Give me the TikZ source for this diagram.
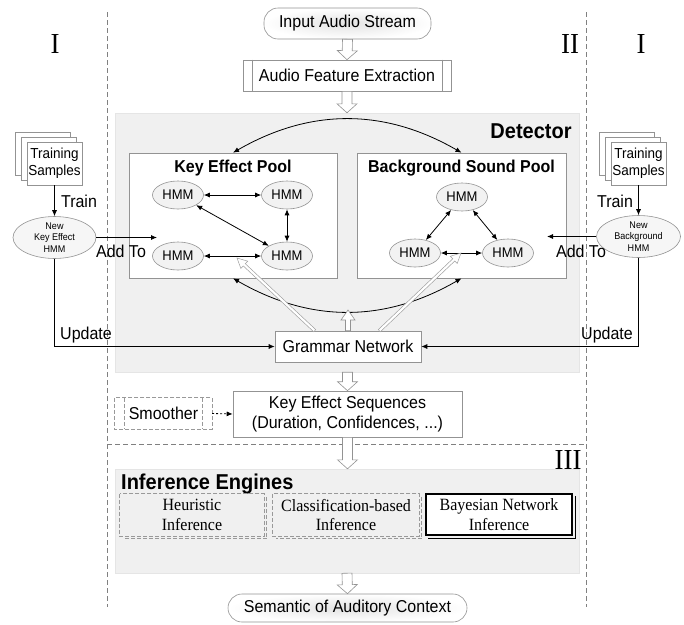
\documentclass[tikz,border=0pt]{standalone}
\usepackage{fontspec}
\setmainfont[FakeStretch=0.93]{Liberation Serif}
\newfontfamily\arial[FakeStretch=0.93]{Liberation Sans}
\usetikzlibrary{calc,arrows.meta,shapes.geometric}
\newcommand\harrow[6][hollowarr]{%
  \coordinate (hH) at ($(#3)!#6!(#2)$);
  \draw[#1] ($(#2)!#4!90:(#3)$) -- ($(hH)!#4!90:(#3)$) -- ($(hH)!#5!90:(#3)$) -- (#3)
    -- ($(hH)!#5!-90:(#3)$) -- ($(hH)!#4!-90:(#3)$) -- ($(#2)!#4!-90:(#3)$) -- cycle;}
\begin{document}
\begin{tikzpicture}[x=1pt,y=-1pt,
  sf/.style={font=\arial\fontsize{17.2}{20}\selectfont},
  box/.style={draw=gray!85, fill=white, line width=0.6pt, inner sep=0pt, align=center, sf},
  hmm/.style={ellipse, draw=gray!85, fill=gray!10, line width=0.6pt, minimum width=51pt, minimum height=28pt, inner sep=0pt, font=\arial\fontsize{14}{16}\selectfont},
  newhmm/.style={ellipse, draw=gray!85, fill=gray!7, line width=0.6pt, inner sep=0pt, align=center, font=\arial\fontsize{9.7}{11.5}\selectfont},
  conn/.style={line width=0.8pt, {Latex[length=6pt,width=5pt]}-{Latex[length=6pt,width=5pt]}},
  arr/.style={line width=0.8pt, -{Latex[length=6pt,width=5pt]}},
  hollowarr/.style={draw=gray!85, fill=white, line width=0.6pt},
  thinarr/.style={draw=gray!75, fill=white, line width=0.5pt},
  sep/.style={gray, dash pattern=on 5pt off 3pt, line width=0.7pt},
  lbl/.style={sf, inner sep=0pt},
  roman/.style={font=\fontsize{29}{31}\selectfont, inner sep=0pt},
  region/.style={fill=gray!12, draw=gray!20, line width=0.4pt, inner sep=0pt},
  serifbox/.style={inner sep=0pt, align=center, font=\fontsize{17.2}{19.5}\selectfont},
  dbox/.style={gray!80, dash pattern=on 4pt off 2pt, line width=0.8pt},
  pill/.style={box, rounded corners=14pt, inner color=gray!22, outer color=white}
]
\useasboundingbox (0,0) rectangle (684,624);

% separators
\draw[sep] (107,12) -- (107,607);
\draw[sep] (586,12) -- (586,607);
\draw[sep] (107,444) -- (586,444);
\node[roman] (r1) at (55,44) {I};
\node[roman] (r2) at (570,44) {II};
\node[roman] (r3) at (641,44) {I};
\node[roman] (r4) at (568,460) {III};

% grey regions
\node[region, minimum width=464pt, minimum height=259pt] (det) at (347,242.5) {};
\node[region, minimum width=464pt, minimum height=104pt] (inf) at (347,521) {};
\node[font=\arial\bfseries\fontsize{21.5}{23}\selectfont, inner sep=0pt] (dett) at (531,131) {Detector};
\node[font=\arial\bfseries\fontsize{21.5}{23}\selectfont, inner sep=0pt, anchor=west] (inft) at (121,484) {Inference Engines};

% top
\node[pill, minimum width=167pt, minimum height=31pt] (in) at (347.5,23.5) {Input Audio Stream};
\node[box, minimum width=208pt, minimum height=31pt] (afe) at (347,75.5) {Audio Feature Extraction};
\draw[gray!85, line width=0.6pt] ($(afe.north west)+(10,0)$) -- ($(afe.south west)+(10,0)$);
\draw[gray!85, line width=0.6pt] ($(afe.north east)+(-9,0)$) -- ($(afe.south east)+(-9,0)$);
\harrow{in.south}{afe.north}{5pt}{10pt}{9pt}
\harrow{afe.south}{det.north}{5pt}{10pt}{9pt}

% pools
\node[box, minimum width=208pt, minimum height=125pt] (kep) at (233,215.5) {};
\node[box, minimum width=209pt, minimum height=125pt] (bsp) at (461.5,215.5) {};
\node[font=\arial\bfseries\fontsize{17.2}{19}\selectfont, inner sep=0pt] (kept) at (233,168) {Key Effect Pool};
\node[font=\arial\bfseries\fontsize{17.2}{19}\selectfont, inner sep=0pt] (bspt) at (461.5,168) {Background Sound Pool};

\node[hmm] (k1) at (178,195) {HMM};
\node[hmm] (k2) at (287,195) {HMM};
\node[hmm] (k3) at (178,256) {HMM};
\node[hmm] (k4) at (287,256) {HMM};
\draw[conn] (k1) -- (k2);
\draw[conn] (k1) -- (k4);
\draw[conn] (k2) -- (k4);
\draw[conn] (k3) -- (k4);

\node[hmm] (b1) at (462,197) {HMM};
\node[hmm] (b2) at (415,253) {HMM};
\node[hmm] (b3) at (508,253) {HMM};
\draw[conn] (b1) -- (b2);
\draw[conn] (b1) -- (b3);
\draw[conn] (b2) -- (b3);

\draw[conn] (kep.north) to[bend left=30] (bsp.north);
\draw[conn] (kep.south) to[bend right=30] (bsp.south);

% grammar network
\node[box, minimum width=146pt, minimum height=31pt] (gn) at (348,346.5) {Grammar Network};
\coordinate (arcbot) at (348,310);
\harrow{gn.north}{arcbot}{2.5pt}{7pt}{10pt}
\coordinate (kt) at (237,258);
\coordinate (bt) at (461,253);
\harrow[thinarr]{$(gn.north west)+(40,0)$}{kt}{1.5pt}{5pt}{10pt}
\harrow[thinarr]{$(gn.north east)+(-42,0)$}{bt}{1.5pt}{5pt}{10pt}

% left training
\node[box, minimum width=55pt, minimum height=43pt] (tsl3) at (42.5,153.5) {};
\node[box, minimum width=55pt, minimum height=43pt] (tsl2) at (48.5,158.5) {};
\node[box, minimum width=55pt, minimum height=43pt, font=\arial\fontsize{14.5}{17}\selectfont] (tsl) at (54.5,163.5) {Training\\Samples};
\node[newhmm, minimum width=83pt, minimum height=39pt] (nke) at (54.5,237.5) {New\\Key Effect\\HMM};
\draw[arr] (tsl.south) -- (nke.north);
\node[lbl] (trl) at (79,201) {Train};
\coordinate (kadd) at (157,237.5);
\draw[arr] (nke.east) -- (kadd);
\node[lbl] (addl) at (121,251) {Add To};
\draw[arr] (nke.south) |- (gn.west);
\node[lbl] (upl) at (86,335) {Update};

% right training
\node[box, minimum width=55pt, minimum height=43pt] (tsr3) at (626.5,153.5) {};
\node[box, minimum width=55pt, minimum height=43pt] (tsr2) at (632.5,158.5) {};
\node[box, minimum width=55pt, minimum height=43pt, font=\arial\fontsize{14.5}{17}\selectfont] (tsr) at (638.5,163.5) {Training\\Samples};
\node[newhmm, minimum width=84pt, minimum height=41pt] (nbg) at (638.5,236.5) {New\\Background\\HMM};
\draw[arr] (tsr.south) -- (nbg.north);
\node[lbl] (trr) at (615,201) {Train};
\coordinate (badd) at (547,236.5);
\draw[arr] (nbg.west) -- (badd);
\node[lbl] (addr) at (581,251) {Add To};
\draw[arr] (nbg.south) |- (gn.east);
\node[lbl] (upr) at (607,335) {Update};

% key effect sequences
\node[box, minimum width=229pt, minimum height=46pt] (kes) at (347.5,414) {Key Effect Sequences\\(Duration, Confidences, ...)};
\harrow{kes.north |- det.south}{kes.north}{5pt}{10pt}{9pt}
\node[inner sep=0pt, minimum width=97pt, minimum height=31pt, sf] (sm) at (163.5,413.5) {Smoother};
\draw[dbox] (sm.north west) rectangle (sm.south east);
\draw[dbox] ($(sm.north west)+(10,0)$) -- ($(sm.south west)+(10,0)$);
\draw[dbox] ($(sm.north east)+(-10,0)$) -- ($(sm.south east)+(-10,0)$);
\draw[line width=0.8pt, dash pattern=on 2pt off 2pt, -{Latex[length=6pt,width=5pt]}] (sm.east) -- (kes.west);
\harrow{kes.south}{kes.south |- inf.north}{5pt}{10pt}{9pt}

% inference engines
\node[serifbox, minimum width=144pt, minimum height=42pt] (heu) at (192,515) {Heuristic\\Inference};
\draw[dbox] (heu.north west) rectangle (heu.south east);
\draw[dbox] ($(heu.north east)+(2.5,3)$) -- ($(heu.south east)+(2.5,2.5)$) -- ($(heu.south west)+(3,2.5)$);
\node[serifbox, minimum width=146pt, minimum height=42pt] (cls) at (346,515) {Classification-based\\Inference};
\draw[dbox] (cls.north west) rectangle (cls.south east);
\draw[dbox] ($(cls.north east)+(2.5,3)$) -- ($(cls.south east)+(2.5,2.5)$) -- ($(cls.south west)+(3,2.5)$);
\node[serifbox, minimum width=146pt, minimum height=41pt, draw=black, fill=white, line width=1.2pt] (bay) at (499,514.5) {Bayesian Network\\Inference};
\draw[line width=1.2pt] ($(bay.north east)+(3,3)$) -- ($(bay.south east)+(3,3)$) -- ($(bay.south west)+(3,3)$);

\node[pill, minimum width=239pt, minimum height=28pt] (sem) at (347.5,608) {Semantic of Auditory Context};
\harrow{inf.south}{sem.north}{5pt}{10pt}{9pt}
\end{tikzpicture}
\end{document}
